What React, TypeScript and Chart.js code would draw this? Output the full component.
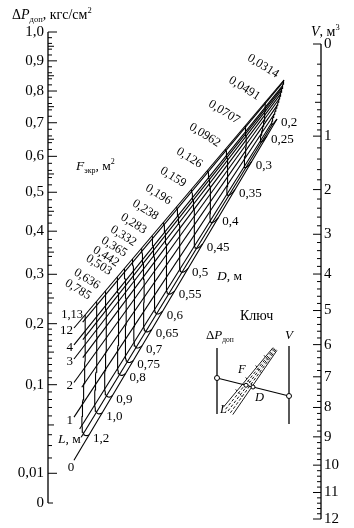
import React, { useEffect, useRef } from 'react';
import { Chart, registerables } from 'chart.js';

Chart.register(...registerables);

// ---------------- data ----------------
const dpTickValues = [1.0, 0.9, 0.8, 0.7, 0.6, 0.5, 0.4, 0.3, 0.2, 0.1, 0.01, 0];
const dpTickLabels = ['1,0', '0,9', '0,8', '0,7', '0,6', '0,5', '0,4', '0,3', '0,2', '0,1', '0,01', '0'];
const vTickValues = [0, 1, 2, 3, 4, 5, 6, 7, 8, 9, 10, 11, 12];
const vTickLabels = ['0', '1', '2', '3', '4', '5', '6', '7', '8', '9', '10', '11', '12'];
const dValues = [0.2, 0.25, 0.3, 0.35, 0.4, 0.45, 0.5, 0.55, 0.6, 0.65, 0.7, 0.75, 0.8, 0.9, 1.0, 1.2];
const dLabels = ['0,2', '0,25', '0,3', '0,35', '0,4', '0,45', '0,5', '0,55', '0,6', '0,65', '0,7', '0,75', '0,8', '0,9', '1,0', '1,2'];
const fLabels = ['0,0314', '0,0491', '0,0707', '0,0962', '0,126', '0,159', '0,196', '0,238', '0,283', '0,332', '0,365', '0,442', '0,503', '0,636', '0,785', '1,13'];
const lValues = [0, 0.25, 0.5, 1, 1.5, 2, 2.5, 3, 3.5, 4, 6, 12];
const lLabelValues = [0, 1, 2, 3, 4, 12];
const lLabels = ['0', '1', '2', '3', '4', '12'];

// ---------------- layout ----------------
const W = 354;
const HGT = 528;
const FONT = '"Liberation Serif", "DejaVu Serif", serif';
const LEFT_X = 48, DP_TOP = 32, DP_BOTTOM = 503, DP_POW = 0.6;
const RIGHT_X = 321, V_TOP = 44, V_BOTTOM = 519, V_POW = 0.66;
const V_MAX = Math.max(...vTickValues);
const LO0 = { x: 89, y: 435 }, LO1 = { x: 277, y: 119 };
const UP0 = { x: 85, y: 315 }, UP1 = { x: 284, y: 80 };
const BEND = 0.034, BEND_S = 0.17;
const L_MAX = Math.max(...lValues);
const D_MAX = Math.max(...dValues), D_MIN = Math.min(...dValues);
const LABEL_COL = 74;
const MESH_W = 1.1;

const dpY = (p: number) => DP_BOTTOM - (DP_BOTTOM - DP_TOP) * Math.pow(p, DP_POW);
const vY = (v: number) => V_TOP + (V_BOTTOM - V_TOP) * Math.pow(v / V_MAX, V_POW);
const vFrac = (D: number) => Math.log(D_MAX / D) / Math.log(D_MAX / D_MIN);
const uOf = (v: number) => v + 1.3 * v * (1 - v) * (v - 0.37);
const wOf = (v: number) => v + v * (1 - v) * (v - 0.6);
const sOf = (L: number) => Math.tanh(L / 3) / Math.tanh(L_MAX / 3);
const g = (s: number) => (s / BEND_S) * Math.exp(1 - s / BEND_S);
const phi = (s: number) => g(s) - s * g(1);
const tau = (D: number, s: number) => {
  const v = vFrac(D);
  return (1 - s) * uOf(v) + s * wOf(v) - BEND * phi(s);
};
const A = (s: number) => ({ x: LO0.x + (UP0.x - LO0.x) * s, y: LO0.y + (UP0.y - LO0.y) * s });
const B = (s: number) => ({ x: LO1.x + (UP1.x - LO1.x) * s, y: LO1.y + (UP1.y - LO1.y) * s });
const pt = (t: number, s: number) => {
  const a = A(s), b = B(s);
  return { x: a.x + t * (b.x - a.x), y: a.y + t * (b.y - a.y) };
};

const KEY = {
  titleX: 240, titleY: 320,
  leftX: 217, leftTop: 348, leftBottom: 414,
  rightX: 289, rightTop: 346, rightBottom: 424,
  leftDot: 378, rightDot: 396,
  b0: { x: 228, y: 411 }, b1: { x: 275, y: 349 },
};

type Part = { text: string; size: number; italic?: boolean; dy?: number };
function rich(ctx: CanvasRenderingContext2D, x: number, y: number, parts: Part[]) {
  let cx = x;
  ctx.textAlign = 'left';
  ctx.textBaseline = 'alphabetic';
  for (const p of parts) {
    ctx.font = `${p.italic ? 'italic ' : ''}${p.size}px ${FONT}`;
    ctx.fillText(p.text, cx, y + (p.dy || 0));
    cx += ctx.measureText(p.text).width;
  }
}

const nomoPlugin = {
  id: 'nomo',
  afterDatasetsDraw(chart: any) {
    const ctx: CanvasRenderingContext2D = chart.ctx;
    const xs = chart.scales.x, ys = chart.scales.y;
    const X = (v: number) => xs.getPixelForValue(v);
    const Y = (v: number) => ys.getPixelForValue(v);
    ctx.save();
    ctx.strokeStyle = '#000';
    ctx.fillStyle = '#000';
    ctx.lineWidth = 1;

    // left axis ticks
    for (let i = 1; i <= 100; i++) {
      const p = i / 100;
      if (p >= 0.2 && i % 2 === 1 && i % 5 !== 0) continue;
      const isLab = dpTickValues.some((t) => Math.abs(t - p) < 1e-9);
      const len = isLab ? 9 : i % 5 === 0 ? 6 : 4;
      ctx.beginPath();
      ctx.moveTo(X(LEFT_X), Y(dpY(p)));
      ctx.lineTo(X(LEFT_X + len), Y(dpY(p)));
      ctx.stroke();
    }
    ctx.beginPath();
    ctx.moveTo(X(LEFT_X), Y(dpY(0)));
    ctx.lineTo(X(LEFT_X + 5), Y(dpY(0)));
    ctx.stroke();
    ctx.font = `15px ${FONT}`;
    ctx.textAlign = 'right';
    ctx.textBaseline = 'middle';
    dpTickValues.forEach((p, i) => ctx.fillText(dpTickLabels[i], X(LEFT_X - 4), Y(dpY(p))));

    // right axis ticks
    const vt: number[] = [];
    for (let k = 0; k <= 10; k++) vt.push(k * 0.1);
    for (let k = 1; k <= 55; k++) vt.push(1 + k * 0.2);
    vt.forEach((v, idx) => {
      const isInt = Math.abs(v - Math.round(v)) < 1e-6;
      const len = isInt ? 8 : (v < 1 && idx === 5) ? 6 : 4;
      ctx.beginPath();
      ctx.moveTo(X(RIGHT_X), Y(vY(v)));
      ctx.lineTo(X(RIGHT_X - len), Y(vY(v)));
      ctx.stroke();
    });
    ctx.textAlign = 'left';
    vTickValues.forEach((v, i) => ctx.fillText(vTickLabels[i], X(RIGHT_X + 3), Y(vY(v))));

    // D labels along the L = 0 edge
    ctx.font = `13px ${FONT}`;
    ctx.textAlign = 'left';
    ctx.textBaseline = 'middle';
    dValues.forEach((D, i) => {
      const p = pt(tau(D, 0), 0);
      ctx.fillText(dLabels[i], X(p.x + 4), Y(p.y + 4));
    });

    // F labels along upper edge
    ctx.font = `12.5px ${FONT}`;
    dValues.forEach((D, i) => {
      const p = pt(tau(D, 1), 1);
      if (D === D_MAX) {
        ctx.textAlign = 'right';
        ctx.textBaseline = 'alphabetic';
        ctx.fillText(fLabels[i], X(p.x - 2), Y(p.y + 3));
        return;
      }
      ctx.save();
      ctx.translate(X(p.x - 8), Y(p.y - 2));
      ctx.rotate((32 * Math.PI) / 180);
      ctx.textAlign = 'right';
      ctx.textBaseline = 'alphabetic';
      ctx.fillText(fLabels[i], 0, 0);
      ctx.restore();
    });

    // L labels
    ctx.font = `13px ${FONT}`;
    lLabelValues.forEach((L, i) => {
      const s = sOf(L);
      const a = A(s), b = B(s);
      const t = L === 0 ? -0.08 : (LABEL_COL - a.x) / (b.x - a.x);
      const e = pt(t, s);
      if (L === 0) {
        ctx.textAlign = 'center';
        ctx.textBaseline = 'top';
        ctx.fillText(lLabels[i], X(e.x - 3), Y(e.y + 1));
      } else {
        ctx.textAlign = 'right';
        ctx.textBaseline = 'middle';
        ctx.fillText(lLabels[i], X(e.x - 1), Y(e.y + 3));
      }
    });

    // titles
    rich(ctx, X(12), Y(19), [
      { text: 'Δ', size: 14 },
      { text: 'P', size: 14, italic: true },
      { text: 'доп', size: 8.5, dy: 3 },
      { text: ', кгс/см', size: 14 },
      { text: '2', size: 8.5, dy: -6 },
    ]);
    rich(ctx, X(311), Y(36), [
      { text: 'V', size: 14, italic: true },
      { text: ', м', size: 14 },
      { text: '3', size: 8.5, dy: -6 },
    ]);
    rich(ctx, X(76), Y(170), [
      { text: 'F', size: 13.5, italic: true },
      { text: 'экр', size: 8, dy: 3 },
      { text: ', м', size: 13.5 },
      { text: '2', size: 8, dy: -6 },
    ]);
    rich(ctx, X(217), Y(280), [
      { text: 'D', size: 13.5, italic: true },
      { text: ', м', size: 13.5 },
    ]);
    rich(ctx, X(58), Y(443), [
      { text: 'L', size: 13.5, italic: true },
      { text: ', м', size: 13.5 },
    ]);

    // ---------- key ----------
    rich(ctx, X(KEY.titleX), Y(KEY.titleY), [{ text: 'Ключ', size: 14 }]);
    rich(ctx, X(206), Y(339), [
      { text: 'Δ', size: 13 },
      { text: 'P', size: 13, italic: true },
      { text: 'доп', size: 7.5, dy: 3 },
    ]);
    rich(ctx, X(285), Y(339), [{ text: 'V', size: 13, italic: true }]);
    ctx.lineWidth = 1.3;
    ctx.beginPath();
    ctx.moveTo(X(KEY.leftX), Y(KEY.leftTop));
    ctx.lineTo(X(KEY.leftX), Y(KEY.leftBottom));
    ctx.moveTo(X(KEY.rightX), Y(KEY.rightTop));
    ctx.lineTo(X(KEY.rightX), Y(KEY.rightBottom));
    ctx.stroke();
    // band
    const dx = KEY.b1.x - KEY.b0.x, dy = KEY.b1.y - KEY.b0.y;
    const len = Math.hypot(dx, dy);
    const n = { x: -dy / len, y: dx / len };
    ctx.lineWidth = 0.9;
    [-6, -3, 0, 3, 6].forEach((k, i) => {
      ctx.setLineDash(i === 0 || i === 4 ? [] : [3, 2]);
      ctx.beginPath();
      ctx.moveTo(X(KEY.b0.x + k * n.x), Y(KEY.b0.y + k * n.y));
      ctx.lineTo(X(KEY.b1.x + k * 0.4 * n.x), Y(KEY.b1.y + k * 0.4 * n.y));
      ctx.stroke();
    });
    ctx.setLineDash([2, 2]);
    [0.25, 0.45, 0.65, 0.82].forEach((t) => {
      const sc = 1 - 0.6 * t;
      const cx = KEY.b0.x + dx * t, cy = KEY.b0.y + dy * t;
      ctx.beginPath();
      ctx.moveTo(X(cx - 6 * sc * n.x), Y(cy - 6 * sc * n.y - 3));
      ctx.lineTo(X(cx + 6 * sc * n.x), Y(cy + 6 * sc * n.y));
      ctx.stroke();
    });
    ctx.setLineDash([]);
    // connecting line
    ctx.lineWidth = 1.2;
    ctx.beginPath();
    ctx.moveTo(X(KEY.leftX), Y(KEY.leftDot));
    ctx.lineTo(X(KEY.rightX), Y(KEY.rightDot));
    ctx.stroke();
    const onLine = (x: number) => KEY.leftDot + ((x - KEY.leftX) / (KEY.rightX - KEY.leftX)) * (KEY.rightDot - KEY.leftDot);
    ctx.lineWidth = 1;
    [
      { x: KEY.leftX, r: 2.5 },
      { x: KEY.rightX, r: 2.5 },
      { x: 246, r: 2 },
      { x: 253, r: 2 },
    ].forEach((c) => {
      ctx.beginPath();
      ctx.arc(X(c.x), Y(onLine(c.x)), c.r, 0, Math.PI * 2);
      ctx.fillStyle = '#fff';
      ctx.fill();
      ctx.stroke();
    });
    ctx.fillStyle = '#000';
    rich(ctx, X(238), Y(373), [{ text: 'F', size: 12.5, italic: true }]);
    rich(ctx, X(255), Y(401), [{ text: 'D', size: 12.5, italic: true }]);
    rich(ctx, X(220), Y(413), [{ text: 'L', size: 12.5, italic: true }]);

    ctx.restore();
  },
};

function lineDs(points: { x: number; y: number }[], width: number) {
  return {
    data: points,
    showLine: true,
    borderColor: '#000',
    borderWidth: width,
    pointRadius: 0,
    fill: false,
    tension: 0,
  };
}

export default function App() {
  const ref = useRef<HTMLCanvasElement | null>(null);
  useEffect(() => {
    if (!ref.current) return;
    const datasets: any[] = [];
    // D (and F) curves
    dValues.forEach((D) => {
      const pts: { x: number; y: number }[] = [];
      for (let i = 0; i <= 60; i++) {
        const s = i / 60;
        pts.push(pt(tau(D, s), s));
      }
      datasets.push(lineDs(pts, MESH_W));
    });
    // L lines
    lValues.forEach((L) => {
      const s = sOf(L);
      const a = A(s), b = B(s);
      const labelled = lLabelValues.includes(L);
      const t0 = L === 0 ? -0.08 : labelled ? (LABEL_COL - a.x) / (b.x - a.x) : tau(D_MAX, s) - 0.012;
      const t1 = tau(D_MIN, s);
      datasets.push(lineDs([pt(t0, s), pt(t1, s)], MESH_W));
    });
    // axes
    datasets.push(lineDs([{ x: LEFT_X, y: dpY(1) }, { x: LEFT_X, y: dpY(0) }], 1.3));
    datasets.push(lineDs([{ x: RIGHT_X, y: vY(0) }, { x: RIGHT_X, y: vY(V_MAX) }], 1.3));

    const chart = new Chart(ref.current, {
      type: 'scatter',
      data: { datasets },
      options: {
        animation: false,
        responsive: false,
        maintainAspectRatio: false,
        events: [],
        layout: { padding: 0 },
        plugins: { legend: { display: false }, tooltip: { enabled: false } },
        scales: {
          x: { type: 'linear', min: 0, max: W, display: false },
          y: { type: 'linear', min: 0, max: HGT, reverse: true, display: false },
        },
      },
      plugins: [nomoPlugin],
    } as any);
    return () => chart.destroy();
  }, []);
  return (
    <div style={{ position: 'absolute', left: 0, top: 0, width: W, height: HGT, background: '#fff' }}>
      <canvas ref={ref} width={W} height={HGT} style={{ display: 'block' }} />
    </div>
  );
}
